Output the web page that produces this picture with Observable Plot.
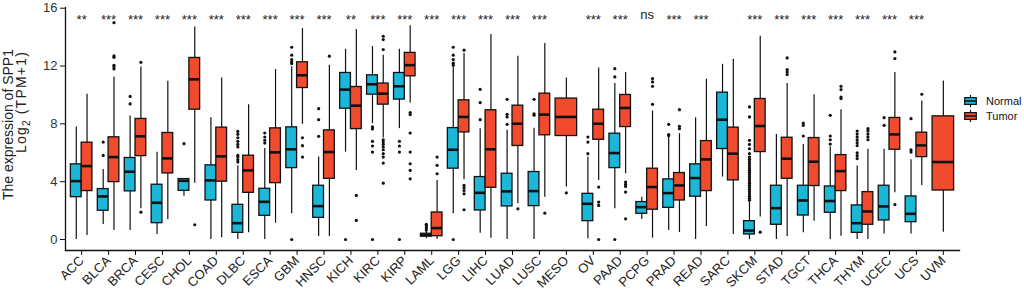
<!DOCTYPE html>
<html><head><meta charset="utf-8">
<script src="https://cdn.jsdelivr.net/npm/d3@7"></script>
<script src="https://cdn.jsdelivr.net/npm/@observablehq/plot@0.6"></script>
<style>
body{margin:0;background:#fff;}
#wrap{position:relative;width:1024px;height:297px;font-family:"Liberation Sans",Arial,sans-serif;}
#legend{position:absolute;left:964px;top:93px;font-size:11px;color:#111;}
.row{display:flex;align-items:center;height:15.5px;}
.row svg{margin-right:9px;}
</style></head><body><div id="wrap"><div id="legend"></div></div>
<script>
const cancers = ["ACC","BLCA","BRCA","CESC","CHOL","COAD","DLBC","ESCA","GBM","HNSC","KICH","KIRC","KIRP","LAML","LGG","LIHC","LUAD","LUSC","MESO","OV","PAAD","PCPG","PRAD","READ","SARC","SKCM","STAD","TGCT","THCA","THYM","UCEC","UCS","UVM"];
const groups = ["Normal", "Tumor"];
const groupColors = ["#1ab7d9", "#f04b2d"];
const signif = ["**","***","***","***","***","***","***","***","***","***","**","***","***","***","***","***","***","***","","***","***","ns","***","***","","***","***","***","***","***","***","***",""];
const yTicks = [0, 4, 8, 12, 16];

// Normal box statistics (whisker low, Q1, median, Q3, whisker high)
const normalLo  = [0,1.04,0.62,0.35,3.0,0,0,0,1.78,0.21,6.05,8.01,7.67,0.05,1.78,0.44,0,0,null,0.05,2.12,1.39,0.62,0,4.32,0,0,0.46,0,0,0.39,0.39,null];
const normalQ1  = [2.93,1.99,3.33,1.13,3.37,2.7,0.46,1.64,4.94,1.5,9.05,10.02,9.68,0.2,4.9,2.01,2.29,2.31,null,1.27,4.94,1.78,2.19,2.96,6.26,0.35,1.02,1.66,1.85,0.46,1.32,1.2,null];
const normalMed = [4.04,2.98,4.69,2.54,4.06,4.09,1.13,2.61,6.24,2.31,10.37,10.74,10.6,0.3,6.21,3.23,3.33,3.35,null,2.47,5.98,2.24,3.21,4.25,8.29,0.62,2.17,2.7,2.66,1.13,2.29,1.78,null];
const normalQ3  = [5.2,3.49,5.64,3.79,4.18,5.13,2.4,3.51,7.76,3.72,11.52,11.36,11.52,0.4,7.71,4.32,4.55,4.67,null,3.16,7.32,2.59,4.16,5.2,10.16,1.27,3.72,3.72,3.67,2.36,3.72,2.98,null];
const normalHi  = [7.78,4.85,8.55,6.03,4.18,8.43,5.1,6.3,11.95,5.7,13.16,13.35,13.16,0.55,11.94,7.67,7.55,7.7,null,5.7,10.79,2.93,7.14,8.43,12.12,2.6,7.27,6.58,6.4,5.08,6.24,5.52,null];
const normalOut = [
  [],[6.74,5.82],[9.9,9.38],[],[6.63],[],
  [7.48,7.28,7.04,6.79,6.58,6.4,5.82,5.7,5.52,5.36],
  [7.37,7.09,6.86,6.67],[13.3,12.75,12.45,12.29,12.17,0],[9.05,8.29,7.14],[0],
  [7.8,7.65,6.79,6.47,6.05,0],[6.79,6.47,6.05,0],[0.65,0.8,0.95,1.05],
  [13.3,12.75,12.45,12.2,12.06,0],[10.39,9.47,8.29],[9.7,8.66,8.48,7.97],[9.7,8.7,8.6],[],
  [7.09,6.74,5.94],[11.82,11.25,0],[],[7.97,7.25,7.2],[],[],
  [9.17,8.48,6.86,6.58,6.28,5.94,5.7,5.55,5.4,5.25,5.1,4.95,4.8,4.65,4.5,4.35,4.2,4.05,3.9,3.75,3.6,3.45,3.3,3.15,3.0,2.85,2.72],
  [],[8.06,7.9,7.16],[8.59,7.16,6.9,6.6],[7.5,7.3,7.1,6.9,6.7,6.5,6.0,5.8,5.6],[8.43,7.9],[8.36,6.21,6.05],[]
];

// Tumor box statistics
const tumorLo  = [0.28,0.62,2.12,1.39,3.9,0.12,0.46,1.13,7.97,0.21,4.78,7.02,9.45,0.02,4.13,0.09,2.47,2.93,3.63,4.09,4.55,0.09,0.48,0.9,0.35,1.55,0.21,1.27,0.23,0,3.23,3.74,0.51];
const tumorQ1  = [3.35,3.97,5.77,4.57,8.98,4.0,3.23,3.9,10.48,4.2,7.64,9.33,11.29,0.23,7.41,3.58,6.47,7.21,7.16,6.9,7.78,2.06,2.7,3.35,4.09,6.05,4.2,3.7,3.35,1.02,6.21,5.7,3.39];
const tumorMed = [5.08,5.7,7.14,5.61,11.08,5.75,4.78,6.03,11.36,6.05,9.26,10.09,12.06,0.79,8.48,6.24,8.01,8.64,8.48,8.01,9.1,3.63,3.74,5.54,5.94,7.85,5.59,5.38,4.73,1.94,7.27,6.51,5.36];
const tumorQ3  = [6.7,7.07,8.34,7.37,12.56,7.74,5.8,7.69,12.26,7.55,10.55,10.79,12.91,1.87,9.63,8.94,9.26,10.09,9.75,8.98,10.0,4.9,4.6,6.81,7.74,9.72,7.04,7.02,5.84,3.28,8.41,7.39,8.52];
const tumorHi  = [10.05,11.25,11.94,10.95,14.7,11.18,9.33,11.76,14.6,12.06,14.53,12.75,14.78,4.09,12.86,14.18,12.68,13.56,11.18,11.87,11.55,8.89,7.32,11.09,12.47,14.06,10.79,10.02,8.98,6.24,11.55,9.58,10.97];
const tumorOut = [
  [],[15.0,12.7,12.6,12.05,11.94,11.8],[12.26,1.89],[],[1.02],[],[],[],
  [7.04,6.49,5.7],[12.68],[3.05,1.32],
  [14.06,13.83,13.14,6.9,6.74,6.58,6.4,6.21,5.94,5.7,5.29,3.9],
  [8.78,8.64,7.37,6.05,5.24,4.78,4.2],[5.7,5.13,4.55],[13.1,3.74,3.58,3.39,3.16,2.06],
  [],[2.12],[1.82],[3.23],[3.63,2.59,2.36,0],[3.97,3.81,3.67,3.28,1.43],[11.13,10.9,10.6,9.35],
  [8.98,7.83,7.67],[],[],[0.51],[12.56,11.76,11.59,11.41],[],[10.6,10.37,9.86,9.75],
  [7.67,7.5,7.3,7.1,6.9],[12.98,12.52,2.42],[10.05],[]
];

const W = 1024, H = 297, mL = 65, mR = 65, mT = 7, mB = 47;
const bw = (W - mL - mR) / (cancers.length + 0.2);

const rows = [], outs = [];
cancers.forEach((c, i) => {
  const hasN = normalMed[i] != null, hasT = tumorMed[i] != null;
  if (hasN) {
    const pos = hasT ? "left" : "center";
    rows.push({cancer: c, group: "Normal", pos, lo: normalLo[i], q1: normalQ1[i], med: normalMed[i], q3: normalQ3[i], hi: normalHi[i]});
    normalOut[i].forEach(v => outs.push({cancer: c, group: "Normal", pos, v}));
  }
  if (hasT) {
    const pos = hasN ? "right" : "center";
    rows.push({cancer: c, group: "Tumor", pos, lo: tumorLo[i], q1: tumorQ1[i], med: tumorMed[i], q3: tumorQ3[i], hi: tumorHi[i]});
    tumorOut[i].forEach(v => outs.push({cancer: c, group: "Tumor", pos, v}));
  }
});

const geo = {
  left:   {dx: -0.2 * bw, il: 0.1 * bw, ir: 0.5 * bw},
  right:  {dx:  0.2 * bw, il: 0.5 * bw, ir: 0.1 * bw},
  center: {dx: 0,         il: 0.1 * bw, ir: 0.1 * bw}
};

const marks = [];
for (const p of ["left", "right", "center"]) {
  const g = geo[p];
  const r = rows.filter(d => d.pos === p), o = outs.filter(d => d.pos === p);
  marks.push(
    Plot.ruleX(r, {x: "cancer", y1: "lo", y2: "hi", dx: g.dx, stroke: "#111", strokeWidth: 1.2}),
    Plot.barY(r, {x: "cancer", y1: "q1", y2: "q3", fill: "group", stroke: "#111", strokeWidth: 1.3, insetLeft: g.il, insetRight: g.ir}),
    Plot.tickY(r, {x: "cancer", y: "med", stroke: "#111", strokeWidth: 2.6, insetLeft: g.il, insetRight: g.ir}),
    Plot.dot(o, {x: "cancer", y: "v", dx: g.dx, r: 1.6, fill: "#111", stroke: "none"})
  );
}

const sig = cancers.map((c, i) => ({cancer: c, s: signif[i]}));

const chart = Plot.plot({
  width: W, height: H,
  marginLeft: mL, marginRight: mR, marginTop: mT, marginBottom: mB,
  style: {fontFamily: '"Liberation Sans", Arial, sans-serif', background: "#fff"},
  x: {type: "band", domain: cancers, paddingInner: 0, paddingOuter: 0.1, axis: null},
  y: {domain: [-0.76, 16.05], axis: null},
  color: {domain: groups, range: groupColors},
  marks: [
    Plot.frame({anchor: "left", stroke: "#111", strokeWidth: 1.3}),
    Plot.frame({anchor: "bottom", stroke: "#111", strokeWidth: 1.3}),
    Plot.axisY(yTicks, {tickSize: 5, tickPadding: 3, fontSize: 13, label: null, color: "#333", stroke: "#111"}),
    Plot.axisX({tickSize: 5, tickPadding: 3, tickRotate: -45, fontSize: 13, label: null, color: "#222", stroke: "#111"}),
    ...marks,
    Plot.text(sig.filter(d => d.s && d.s !== "ns"), {x: "cancer", text: "s", frameAnchor: "top", dy: 7, fontSize: 13, fill: "#222"}),
    Plot.text(sig.filter(d => d.s === "ns"), {x: "cancer", text: "s", frameAnchor: "top", dy: 2.5, fontSize: 13, fill: "#222"})
  ]
});

// y-axis title (two lines)
const svg = d3.select(chart);
svg.append("text")
  .attr("transform", "translate(12.5,49) rotate(-90)")
  .attr("text-anchor", "end").attr("font-size", 14).attr("fill", "#222")
  .text("The expression of SPP1");
const t2 = svg.append("text")
  .attr("transform", "translate(25.5,51) rotate(-90)")
  .attr("text-anchor", "end").attr("font-size", 14).attr("fill", "#222")
  .attr("letter-spacing", "1.2");
t2.append("tspan").text("Log");
t2.append("tspan").attr("font-size", 10).attr("dy", 4).text("2");
t2.append("tspan").attr("dy", -4).text(" (TPM+1)");

document.getElementById("wrap").prepend(chart);

// legend
const leg = d3.select("#legend");
groups.forEach((g, i) => {
  const row = leg.append("div").attr("class", "row");
  const s = row.append("svg").attr("width", 13).attr("height", 12);
  s.append("line").attr("x1", 6.5).attr("x2", 6.5).attr("y1", 0).attr("y2", 12).attr("stroke", "#111").attr("stroke-width", 1.2);
  s.append("rect").attr("x", 0.7).attr("y", 2.6).attr("width", 11.6).attr("height", 6.8).attr("fill", groupColors[i]).attr("stroke", "#111").attr("stroke-width", 1.2);
  s.append("line").attr("x1", 0.7).attr("x2", 12.3).attr("y1", 6).attr("y2", 6).attr("stroke", "#111").attr("stroke-width", 1.5);
  row.append("span").text(g);
});
</script></body></html>
